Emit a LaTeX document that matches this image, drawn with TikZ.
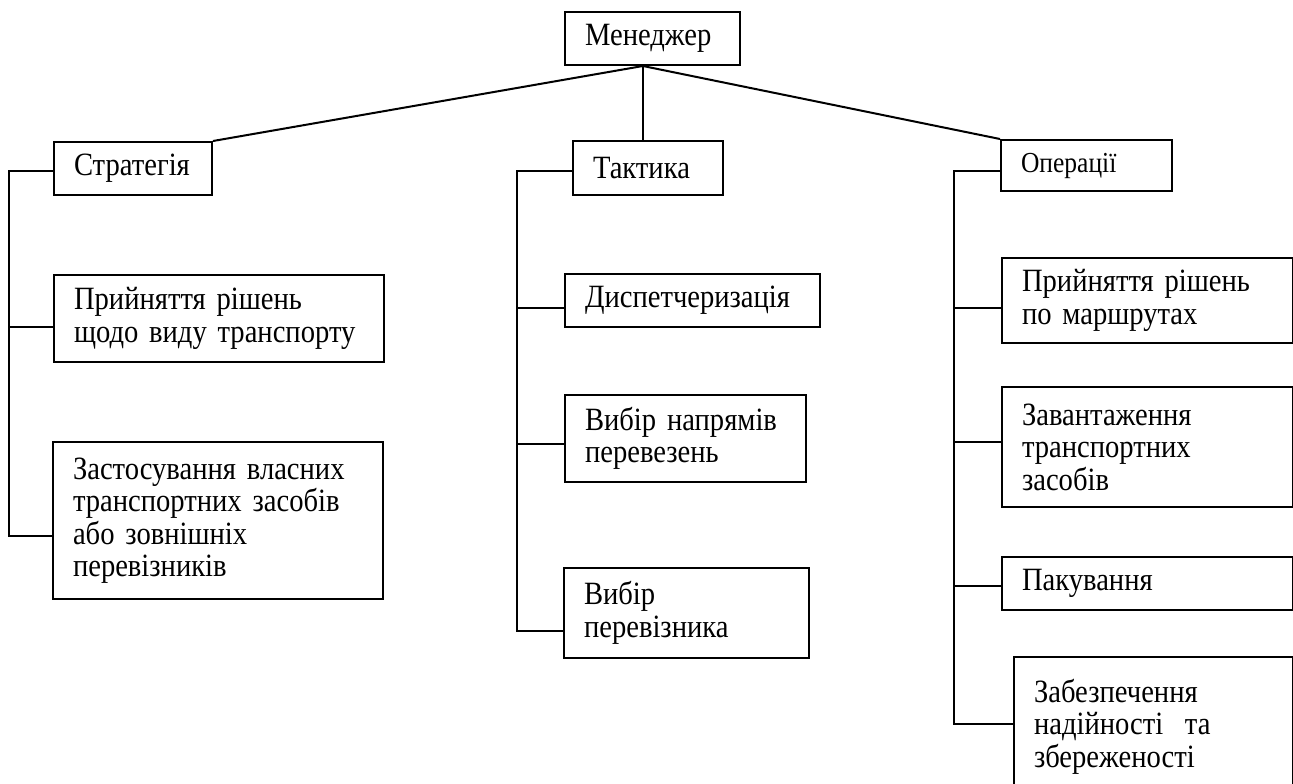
\documentclass[tikz,border=0pt]{standalone}
\usepackage{fontspec}
\setmainfont{Liberation Serif}[FakeStretch=0.88]
\usetikzlibrary{calc}
\begin{document}
\begin{tikzpicture}[x=1pt,y=-1pt,
  box/.style={draw, line width=2pt, rectangle, inner xsep=20pt, inner ysep=0pt,
    align=left, anchor=north west, font=\fontsize{32.5}{32.5}\selectfont},
  conn/.style={draw, line width=2pt}]
\useasboundingbox (0,0) rectangle (1293,784);
\begin{scope}
\clip (0,0) rectangle (1293,784);
% top
\node[box, text width=135pt, minimum height=53pt] (men) at (564,11) {Менеджер};
% level 1
\node[box, text width=118pt, minimum height=53pt] (str) at (53,141) {Стратегія};
\node[box, text width=110pt, minimum height=54pt] (tac) at (572,140) {Тактика};
\node[box, text width=131pt, minimum height=51pt, font=\fontsize{29}{30}\selectfont] (ops) at (1000,139) {Операції};
% strategy children
\node[box, text width=290pt, minimum height=87pt] (s1) at (53,274) {Прийняття рішень\\щодо виду транспорту};
\node[box, text width=290pt, minimum height=157pt] (s2) at (52,441) {Застосування власних\\транспортних засобів\\або зовнішніх\\перевізників};
% tactics children
\node[box, text width=215pt, minimum height=53pt] (t1) at (564,273) {Диспетчеризація};
\node[box, text width=201pt, minimum height=87pt] (t2) at (564,394) {Вибір напрямів\\перевезень};
\node[box, text width=205pt, minimum height=90pt] (t3) at (563,567) {Вибір\\перевізника};
% operations children
\node[box, text width=251pt, minimum height=85pt] (o1) at (1001,257) {Прийняття рішень\\по маршрутах};
\node[box, text width=251pt, minimum height=120pt] (o2) at (1001,386) {Завантаження\\транспортних\\засобів};
\node[box, text width=251pt, minimum height=53pt] (o3) at (1001,556) {Пакування};
\node[box, text width=239pt, minimum height=139pt] (o4) at (1013,656) {Забезпечення\\надійності\ \ та\\збереженості};
% connectors from manager
\coordinate (j) at ($(men.south west)!0.446!(men.south east)$);
\draw[conn] (j) -- (str.north east);
\draw[conn] (j) -- (j |- tac.north);
\draw[conn] (j) -- (ops.north west);
% strategy branch
\coordinate (sx) at (9,0);
\coordinate (sA) at ([yshift=-2.5pt]str.west);
\coordinate (s1p) at ([yshift=-8pt]s1.west);
\coordinate (s2p) at ([yshift=-15pt]s2.west);
\draw[conn] (sA) -- (sA -| sx) -- (s2p -| sx) -- (s2p);
\draw[conn] (s1p -| sx) -- (s1p);
% tactics branch
\coordinate (tx) at (517,0);
\coordinate (tA) at ([yshift=-3pt]tac.west);
\coordinate (t1p) at ([yshift=-7pt]t1.west);
\coordinate (t2p) at ([yshift=-5pt]t2.west);
\coordinate (t3p) at ([yshift=-18pt]t3.west);
\draw[conn] (tA) -- (tA -| tx) -- (t3p -| tx) -- (t3p);
\draw[conn] (t1p -| tx) -- (t1p);
\draw[conn] (t2p -| tx) -- (t2p);
% operations branch
\coordinate (ox) at (954,0);
\coordinate (oA) at ([yshift=-5.5pt]ops.west);
\coordinate (o1p) at ([yshift=-7pt]o1.west);
\coordinate (o2p) at ([yshift=5pt]o2.west);
\coordinate (o3p) at ([yshift=-2.5pt]o3.west);
\coordinate (o4p) at ([yshift=2.5pt]o4.west);
\draw[conn] (oA) -- (oA -| ox) -- (o4p -| ox) -- (o4p);
\draw[conn] (o1p -| ox) -- (o1p);
\draw[conn] (o2p -| ox) -- (o2p);
\draw[conn] (o3p -| ox) -- (o3p);
\end{scope}
\end{tikzpicture}
\end{document}
